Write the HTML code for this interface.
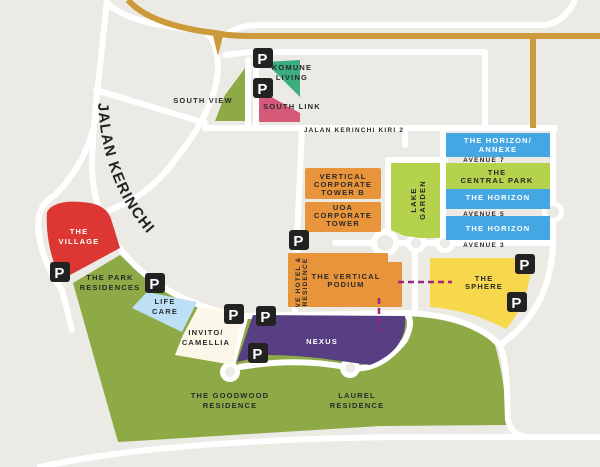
<!DOCTYPE html>
<html><head><meta charset="utf-8"><style>
html,body{margin:0;padding:0;background:#ECEAE4}
svg{display:block}
text{font-family:"Liberation Sans",sans-serif;font-weight:bold;letter-spacing:1.2px}
</style></head><body>
<svg width="600" height="467" viewBox="0 0 600 467" xmlns="http://www.w3.org/2000/svg">
<rect width="600" height="467" fill="#ECEAE4"/>
<!-- green base -->
<path d="M73,283 L120,255 L150,282 L200,305 L240,316 L415,313 Q470,318 495,345 Q505,380 507,425 L380,426 L118,442 Z" fill="#8DAA47"/>
<!-- white roads -->
<g fill="none" stroke="#fff" stroke-width="6" stroke-linecap="round" stroke-linejoin="round">
<path d="M107,0 L97,95 Q92,140 92,170 Q95,230 140,270 Q180,305 240,316 L405,313"/>
<path d="M107,3 Q130,25 200,30 Q218,35 218,70 Q215,110 175,160 Q150,195 110,210"/>
<path d="M96,90 L205,123"/>
<path d="M97,110 Q90,160 55,195 Q38,205 38,225 Q40,260 62,290 L72,330"/>
<path d="M205,128 L555,128"/>
<path d="M215,45 Q230,25 260,25 L545,25 Q565,22 575,0"/>
<path d="M225,55 L250,52 L485,52 L485,128"/>
<path d="M405,128 L405,145"/>
<path d="M248,60 L248,128 M256,60 L256,128"/>
<path d="M302,128 L297,240 L295,316"/>
<path d="M388,160 L445,160 M443,128 L443,245 M388,160 L388,245"/>
<path d="M553,128 L553,245 Q550,310 500,345"/>
<path d="M405,313 Q470,315 500,345 Q506,360 507,390 L508,420 Q512,437 530,437"/>
<path d="M335,243 L553,243"/>
<path d="M415,243 L415,310"/>
<path d="M240,367 Q300,357 350,368 Q380,372 405,340 Q415,320 405,313"/>
<path d="M40,467 Q160,440 400,437 L600,437"/>
<path d="M230,372 L245,318"/>
</g>
<g fill="#fff"><circle cx="385" cy="243" r="14"/><circle cx="416" cy="243" r="10"/><circle cx="445" cy="243" r="10"/><circle cx="553" cy="212" r="11"/><circle cx="230" cy="372" r="10"/><circle cx="350" cy="368" r="10"/></g>
<g fill="#ECEAE4"><circle cx="385" cy="243" r="8"/><circle cx="416" cy="243" r="5"/><circle cx="445" cy="243" r="5"/><circle cx="553" cy="212" r="6"/><circle cx="230" cy="372" r="5"/><circle cx="350" cy="368" r="5"/></g>
<!-- gold road -->
<g fill="none" stroke="#CC9A3A" stroke-width="6"><path d="M128,0 Q150,25 215,33 Q230,36 250,36 L600,36"/><path d="M533,36 L533,128"/></g>
<path d="M213,36 L223,36 L218,56 Z" fill="#CC9A3A"/>
<!-- buildings -->
<path d="M47,212 Q55,198 90,203 Q108,206 112,222 L120,248 L70,275 L57,272 Q45,240 47,212 Z" fill="#DC3732"/>
<path d="M132,308 L147,292 L197,302 L182,332 Z" fill="#BEE0F6"/>
<path d="M198,307 L242,313 L233,365 L175,355 L183,335 Z" fill="#FCF8E9"/>
<path d="M253,315 L405,316 Q408,350 370,365 L333,360 Q300,355 267,355 L237,362 Z" fill="#583E82"/>
<path d="M288,253 L388,253 L388,262 L402,262 L402,307 L288,307 Z" fill="#E8943A"/>
<rect x="305" y="168" width="76" height="31" rx="2" fill="#E8943A"/>
<rect x="305" y="202" width="76" height="30" rx="2" fill="#E8943A"/>
<path d="M391,163 L440,163 L440,238 L420,238 L405,236 L391,230 Z" fill="#B4D24B"/>
<rect x="446" y="133" width="104" height="24" fill="#45A6E4"/>
<rect x="446" y="163" width="104" height="26" fill="#B4D24B"/>
<rect x="446" y="189" width="104" height="20" fill="#45A6E4"/>
<rect x="446" y="216" width="104" height="24" fill="#45A6E4"/>
<path d="M430,258 L533,258 Q528,305 506,329 Q470,310 430,307 Z" fill="#F7D74B"/>
<path d="M215,121 L225,95 L245,68 L245,121 Z" fill="#8DAA47"/>
<path d="M265,62 L300,60 L300,97 Z" fill="#3BAE7E"/>
<path d="M259,95 L268,95 L300,113 L300,122 L259,122 Z" fill="#D55A7A"/>
<!-- dashed -->
<g stroke="#A0257E" stroke-width="2.5" stroke-dasharray="6,4" fill="none"><path d="M398,282 L452,282"/><path d="M379,298 L379,330"/></g>
<!-- parking -->
<g font-size="15">
<g transform="translate(253,48)"><rect width="20" height="20" rx="3" fill="#222"/><text x="10" y="16" fill="#fff" text-anchor="middle" letter-spacing="0">P</text></g>
<g transform="translate(253,78)"><rect width="20" height="20" rx="3" fill="#222"/><text x="10" y="16" fill="#fff" text-anchor="middle" letter-spacing="0">P</text></g>
<g transform="translate(289,230)"><rect width="20" height="20" rx="3" fill="#222"/><text x="10" y="16" fill="#fff" text-anchor="middle" letter-spacing="0">P</text></g>
<g transform="translate(50,262)"><rect width="20" height="20" rx="3" fill="#222"/><text x="10" y="16" fill="#fff" text-anchor="middle" letter-spacing="0">P</text></g>
<g transform="translate(145,273)"><rect width="20" height="20" rx="3" fill="#222"/><text x="10" y="16" fill="#fff" text-anchor="middle" letter-spacing="0">P</text></g>
<g transform="translate(224,304)"><rect width="20" height="20" rx="3" fill="#222"/><text x="10" y="16" fill="#fff" text-anchor="middle" letter-spacing="0">P</text></g>
<g transform="translate(256,306)"><rect width="20" height="20" rx="3" fill="#222"/><text x="10" y="16" fill="#fff" text-anchor="middle" letter-spacing="0">P</text></g>
<g transform="translate(248,343)"><rect width="20" height="20" rx="3" fill="#222"/><text x="10" y="16" fill="#fff" text-anchor="middle" letter-spacing="0">P</text></g>
<g transform="translate(515,254)"><rect width="20" height="20" rx="3" fill="#222"/><text x="10" y="16" fill="#fff" text-anchor="middle" letter-spacing="0">P</text></g>
<g transform="translate(507,292)"><rect width="20" height="20" rx="3" fill="#222"/><text x="10" y="16" fill="#fff" text-anchor="middle" letter-spacing="0">P</text></g>
</g>
<!-- labels -->
<path id="jk" d="M98,103 Q103,205 178,262" fill="none"/>
<text font-size="15" fill="#222" letter-spacing="2.5"><textPath href="#jk">JALAN KERINCHI</textPath></text>
<g font-size="7.5" fill="#2a2a2a" text-anchor="middle">
<text x="203" y="103">SOUTH VIEW</text>
<text x="292" y="70">KOMUNE</text><text x="292" y="80">LIVING</text>
<text x="292" y="109">SOUTH LINK</text>
<text x="354" y="132" font-size="6.5">JALAN KERINCHI KIRI 2</text>
<text x="343" y="179">VERTICAL</text><text x="343" y="187">CORPORATE</text><text x="343" y="195">TOWER B</text>
<text x="343" y="210">UOA</text><text x="343" y="218">CORPORATE</text><text x="343" y="226">TOWER</text>
<text x="346" y="279">THE VERTICAL</text><text x="346" y="287">PODIUM</text>
<text x="484" y="162" font-size="6.5">AVENUE 7</text>
<text x="497" y="175">THE</text><text x="497" y="183">CENTRAL PARK</text>
<text x="484" y="216" font-size="6.5">AVENUE 5</text>
<text x="484" y="247" font-size="6.5">AVENUE 3</text>
<text x="484" y="281">THE</text><text x="484" y="289">SPHERE</text>
<text x="110" y="280">THE PARK</text><text x="110" y="290">RESIDENCES</text>
<text x="206" y="335">INVITO/</text><text x="206" y="345">CAMELLIA</text>
<text x="230" y="398">THE GOODWOOD</text><text x="230" y="408">RESIDENCE</text>
<text x="357" y="398">LAUREL</text><text x="357" y="408">RESIDENCE</text>
<text x="165" y="304">LIFE</text><text x="165" y="314">CARE</text>
<text transform="translate(416,200) rotate(-90)">LAKE</text><text transform="translate(425,200) rotate(-90)">GARDEN</text>
<text transform="translate(300,282) rotate(-90)" font-size="6.5">VE HOTEL &amp;</text><text transform="translate(307,282) rotate(-90)" font-size="6.5">RESIDENCE</text>
</g>
<g font-size="7.5" fill="#fff" text-anchor="middle">
<text x="498" y="143">THE HORIZON/</text><text x="498" y="152">ANNEXE</text>
<text x="498" y="200">THE HORIZON</text>
<text x="498" y="231">THE HORIZON</text>
<text x="79" y="234">THE</text><text x="79" y="244">VILLAGE</text>
<text x="322" y="344">NEXUS</text>
</g>
</svg>
</body></html>
